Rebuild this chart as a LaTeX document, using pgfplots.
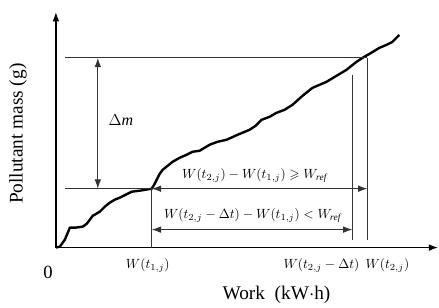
\documentclass[border=0pt]{standalone}
\usepackage{amsmath,amssymb}
\usepackage{fontspec}
\setmainfont{Liberation Serif}
\usepackage{pgfplots}
\pgfplotsset{compat=1.18}
\usetikzlibrary{arrows.meta}
\begin{document}
\begin{tikzpicture}
\begin{axis}[
  x=0.75pt, y=0.75pt,
  xmin=-56, xmax=383, ymin=-56, ymax=248,
  hide axis, clip=false,
]
\path (axis cs:-56,-56) rectangle (axis cs:383,248);
% axes
\draw[line width=1.1pt,-{Latex[length=7pt,width=5pt]}] (axis cs:0,0) -- (axis cs:0,236);
\draw[line width=1.1pt,-{Latex[length=7pt,width=5pt]}] (axis cs:0,0) -- (axis cs:383,0);
% curve
\addplot[black, line width=1.8pt, line join=round] table {
x y
0 0
4 1
9 8
14 20
20 20
27 21
31 24
34 28
37 32
39 33
44 36
49 41
54 45
59 48
64 50
70 53
76 56
84 57
96 59
99 64
101 68
104 74
107 78
112 82
117 86
124 90
131 93
137 96
144 97
149 100
154 103
162 106
171 108
182 113
194 118
200 122
206 128
214 131
221 135
229 138
237 143
247 152
257 160
264 163
271 166
281 172
291 178
301 186
307 190
314 194
324 200
331 203
337 206
344 213
};
% annotation lines
\draw[line width=0.8pt, black!80] (axis cs:9,190) -- (axis cs:312,190);
\draw[line width=0.8pt, black!80] (axis cs:9,59) -- (axis cs:96,59);
\draw[line width=0.8pt, black!80, {Latex[length=7pt,width=5pt]}-{Latex[length=7pt,width=5pt]}] (axis cs:96,59) -- (axis cs:312,59);
\draw[line width=0.8pt, black!80] (axis cs:96,0) -- (axis cs:96,59);
\draw[line width=0.8pt, black!80] (axis cs:312,190) -- (axis cs:312,8);
\draw[line width=0.8pt, black!80] (axis cs:297,173) -- (axis cs:297,8);
\draw[line width=0.8pt, black!80, {Latex[length=7pt,width=5pt]}-{Latex[length=7pt,width=5pt]}] (axis cs:96,18) -- (axis cs:297,18);
\draw[line width=0.8pt, black!80, {Latex[length=7pt,width=5pt]}-{Latex[length=7pt,width=5pt]}] (axis cs:42,59) -- (axis cs:42,190);
% labels
\node[anchor=west] at (axis cs:48,128) {\fontsize{12}{14}\selectfont$\Delta$\textit{m}};
\node at (axis cs:199,72) {$W(t_{2,j})-W(t_{1,j})\geqslant W_{\mathit{ref}}$};
\node at (axis cs:197,32) {$W(t_{2,j}-\Delta t)-W(t_{1,j})<W_{\mathit{ref}}$};
\node at (axis cs:92,-18) {$W(t_{1,j})$};
\node at (axis cs:266,-18) {$W(t_{2,j}-\Delta t)$};
\node at (axis cs:332,-18) {$W(t_{2,j})$};
\node at (axis cs:-8,-25) {\fontsize{14}{16}\selectfont 0};
\node at (axis cs:221,-47) {\fontsize{14.5}{17}\selectfont Work\ \ (kW$\cdot$h)};
\node[rotate=90] at (axis cs:-38,114) {\fontsize{14.5}{17}\selectfont Pollutant mass (g)};
\end{axis}
\end{tikzpicture}
\end{document}
